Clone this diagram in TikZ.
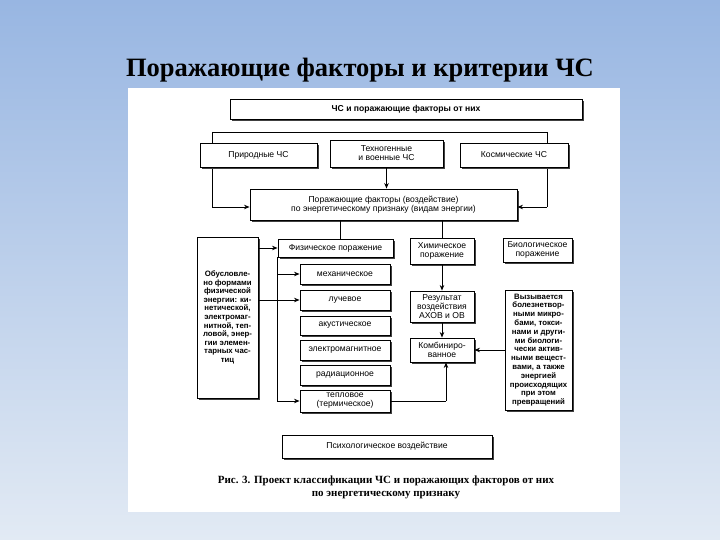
\documentclass[tikz,border=0pt]{standalone}
\usepackage{fontspec}
\setmainfont{Liberation Serif}
\setsansfont{Liberation Sans}
\usetikzlibrary{shadows,arrows.meta}
\definecolor{bgtop}{HTML}{98B6E2}
\definecolor{bgbot}{HTML}{E2EAF4}
\begin{document}
\begin{tikzpicture}[x=1pt,y=-1pt,
  bx/.style={draw,line width=0.9pt,fill=white,inner sep=0.5pt,align=center,font=\sffamily\fontsize{8.6}{9}\selectfont,
    drop shadow={opacity=1,fill=black!75,shadow xshift=1.8pt,shadow yshift=-1.8pt}},
  nb/.style={font=\sffamily\bfseries\fontsize{8}{8.9}\selectfont},
  ln/.style={line width=0.9pt},
  ar/.style={line width=0.9pt,-{Stealth[length=5.5pt,width=4.5pt]}}]
\shade[top color=bgtop,bottom color=bgbot] (0,0) rectangle (720,540);
\useasboundingbox (0,0) rectangle (720,540);
\node (title) at (360,70) {\fontsize{26.5}{28}\selectfont\bfseries Поражающие факторы и критерии ЧС};
\fill[white] (128,88) rectangle (620,512);
\def\B#1#2#3#4#5#6{\node[bx,minimum width=#4-#2,minimum height=#5-#3] (#1) at ({(#2+#4)/2},{(#3+#5)/2}) {#6};}
\B{top}{230}{99}{582}{119}{\bfseries ЧС и поражающие факторы от них}
\draw[ln] (212,132) -- (547,132);
\coordinate (lt) at (212,132); \coordinate (rt) at (547,132);
\coordinate (lb) at (212,207); \coordinate (rb) at (547,207);
\draw[ln] (lt) -- (lb); \draw[ln] (rt) -- (rb);
\B{nat}{200}{143}{317}{167}{Природные ЧС}
\B{tech}{330}{140}{443}{167}{Техногенные\\и военные ЧС}
\B{cosm}{460}{143}{568}{167}{Космические ЧС}
\B{main}{250}{189}{517}{220}{Поражающие факторы (воздействие)\\по энергетическому признаку (видам энергии)}
\draw[ar] (lb) -- (main.west|-lb);
\draw[ar] (rb) -- (main.east|-rb);
\draw[ar] (tech) -- (main.north-|tech);
\B{left}{197}{237}{258}{398}{\parbox{60pt}{\centering\bfseries\fontsize{7.8}{8.6}\selectfont Обусловле-\\но формами\\физической\\энергии: ки-\\нетической,\\электромаг-\\нитной, теп-\\ловой, энер-\\гии элемен-\\тарных час-\\тиц}}
\B{phys}{278}{239}{393}{257}{Физическое поражение}
\B{chem}{410}{238}{474}{264}{Химическое\\поражение}
\B{bio}{503}{238}{572}{262}{Биологическое\\поражение}
\draw[ln] (340,220) -- (340,239);
\draw[ln] (442,220) -- (442,238);
\draw[ar] (left.east|-phys) -- (phys.west);
\B{mech}{300}{264}{390}{284}{механическое}
\B{luch}{300}{290}{390}{310}{лучевое}
\B{acu}{300}{316}{390}{335}{акустическое}
\B{elm}{300}{340}{390}{360}{электромагнитное}
\B{rad}{300}{365}{390}{385}{радиационное}
\B{heat}{300}{390}{390}{412}{тепловое\\(термическое)}
\coordinate (vt) at (277,257); \coordinate (vb) at (277,401);
\draw[ln] (vt) -- (vb);
\draw[ar] (vt|-mech) -- (mech.west);
\draw[ar] (left.east|-luch) -- (luch.west);
\draw[ar] (vb) -- (heat.west);
\B{res}{410}{291}{474}{322}{Результат\\воздействия\\АХОВ и ОВ}
\B{comb}{410}{338}{474}{362}{Комбиниро-\\ванное}
\B{cause}{505}{290}{572}{410}{\parbox{66pt}{\centering\bfseries\fontsize{7.8}{8.8}\selectfont Вызывается\\болезнетвор-\\ными микро-\\бами, токси-\\нами и други-\\ми биологи-\\чески актив-\\ными вещест-\\вами, а также\\энергией\\происходящих\\при этом\\превращений}}
\draw[ar] (chem) -- (res);
\draw[ar] (res) -- (comb);
\draw[ar] (cause.west|-comb) -- (comb.east);
\coordinate (hk) at (446,401);
\draw[ln] (heat.east) -- (hk);
\draw[ar] (hk) -- (hk|-comb.south);
\B{psy}{282}{435}{492}{458}{Психологическое воздействие}
\node[align=center,font=\bfseries\fontsize{11}{13}\selectfont] (cap) at (386,487) {Рис. 3. Проект классификации ЧС и поражающих факторов от них\\по энергетическому признаку};
\end{tikzpicture}
\end{document}
